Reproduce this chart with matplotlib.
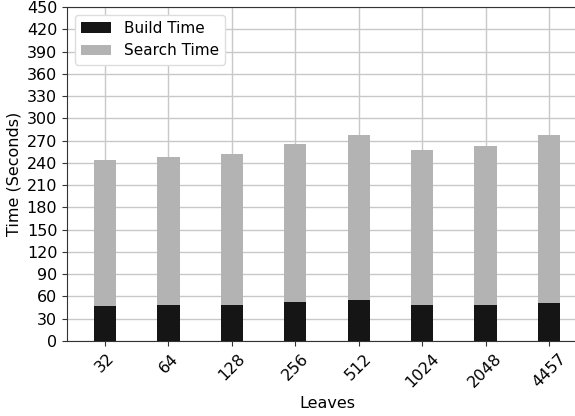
import numpy as np
import matplotlib
matplotlib.use('Agg')
import matplotlib.pyplot as plt

leaves = ['32', '64', '128', '256', '512', '1024', '2048', '4457']
build_time = [47, 49, 49, 53, 55, 49, 49, 51]
search_time = [197, 199, 203, 213, 222, 209, 214, 226]

fig = plt.figure(figsize=(5.75, 4.16), dpi=100)
# right side of the original is cropped, so the axes run past the figure edge
ax = fig.add_axes([67/575, 75/416, 520/575, 334/416])

x = np.arange(len(leaves))
w = 0.35
ax.bar(x, build_time, w, color='#151515', label='Build Time', zorder=3)
ax.bar(x, search_time, w, bottom=build_time, color='#b3b3b3', label='Search Time', zorder=3)

ax.set_xlim(-0.6, 7.6)
ax.set_ylim(0, 450)
ax.set_yticks(np.arange(0, 451, 30))
ax.set_xticks(x)
ax.set_xticklabels(leaves, rotation=45)
ax.grid(True, color='#c8c8c8', linewidth=1, zorder=0)
ax.set_axisbelow(True)
ax.set_xlabel('Leaves', fontsize=11.5)
ax.set_ylabel('Time (Seconds)', fontsize=11.5)
ax.tick_params(labelsize=11.5, color='#333333')
for s in ax.spines.values():
    s.set_color('#333333')
ax.legend(loc='upper left', fontsize=11, framealpha=1, edgecolor='#dddddd')

fig.savefig('out.png', dpi=100)
